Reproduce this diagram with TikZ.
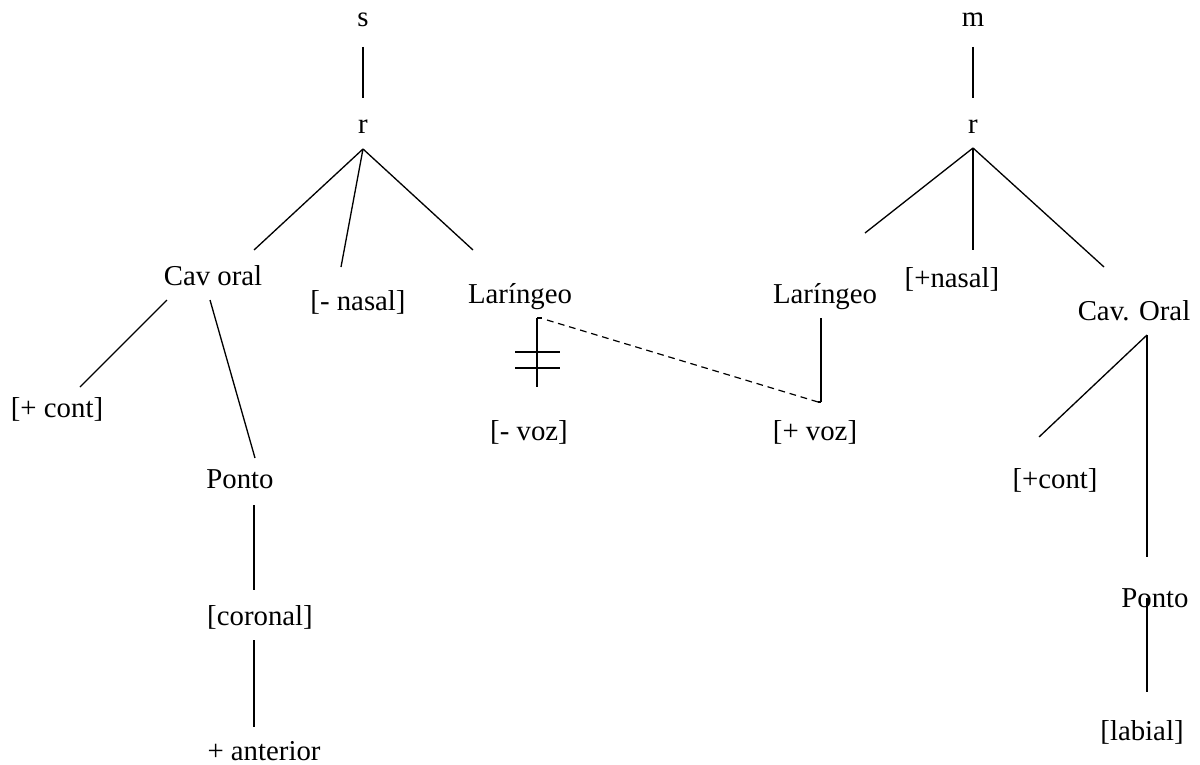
\documentclass[tikz,border=0pt]{standalone}
\usepackage{fontspec}
\setmainfont{Liberation Serif}
\usetikzlibrary{positioning}

\begin{document}
\begin{tikzpicture}
   [x=0.4167pt, y=-0.4167pt,
    feat/.style={anchor=base, inner sep=0pt, font=\fontsize{12}{14}\selectfont},
    branch/.style={-, line width=0.55pt},
    link/.style={-, line width=0.5pt, dash pattern=on 2.8pt off 2pt}]
     \useasboundingbox (0,0) rectangle (1200,764);
     % draw labels of s
     \node (sS)      at (363,27)  [feat] {s};
     \node (sR)      at (363,133) [feat] {r};
     \node (sCav)    at (213,285) [feat] {Cav oral};
     \node (sNas)    at (358,310) [feat] {[- nasal]};
     \node (sLar)    at (520,303) [feat] {Lar\'{\i}ngeo};
     \node (sCont)   at (57,417)  [feat] {[+ cont]};
     \node (sPonto)  at (240,488) [feat] {Ponto};
     \node (sCor)    at (260,625) [feat] {[coronal]};
     \node (sAnt)    at (264,760) [feat] {+ anterior};
     \node (sVoz)    at (529,440) [feat] {[- voz]};
     % draw labels of m
     \node (mM)      at (973,27)  [feat] {m};
     \node (mR)      at (973,133) [feat] {r};
     \node (mLar)    at (825,303) [feat] {Lar\'{\i}ngeo};
     \node (mNas)    at (952,287) [feat] {[+nasal]};
     \node (mCav)    at (1134,320) [feat] {Cav. Oral};
     \node (mVoz)    at (815,440) [feat] {[+ voz]};
     \node (mCont)   at (1055,488) [feat] {[+cont]};
     \node (mPonto)  at (1155,607) [feat] {Ponto};
     \node (mLab)    at (1142,740) [feat] {[labial]};
     % line ends
     \coordinate (sS-b)    at (363,47);
     \coordinate (sR-t)    at (363,98);
     \coordinate (sR-b)    at (363,149);
     \coordinate (sCav-t)  at (254,250);
     \coordinate (sNas-t)  at (341,267);
     \coordinate (sLar-t)  at (473,250);
     \coordinate (sCav-l)  at (167,300);
     \coordinate (sCav-r)  at (210,300);
     \coordinate (sCont-t) at (80,387);
     \coordinate (sPonto-t) at (255,458);
     \coordinate (sPonto-b) at (254,505);
     \coordinate (sCor-t)  at (254,590);
     \coordinate (sCor-b)  at (254,640);
     \coordinate (sAnt-t)  at (254,727);
     \coordinate (sLar-b)  at (537,318);
     \coordinate (sVoz-t)  at (537,387);
     \coordinate (sLink)   at (547,320);
     \coordinate (mM-b)    at (973,47);
     \coordinate (mR-t)    at (973,98);
     \coordinate (mR-b)    at (973,148);
     \coordinate (mLar-t)  at (865,233);
     \coordinate (mNas-t)  at (973,250);
     \coordinate (mCav-t)  at (1104,267);
     \coordinate (mLar-b)  at (821,318);
     \coordinate (mVoz-t)  at (821,402);
     \coordinate (mLink)   at (818,402);
     \coordinate (mCav-b)  at (1147,335);
     \coordinate (mCont-t) at (1039,437);
     \coordinate (mPonto-t) at (1147,557);
     \coordinate (mPonto-b) at (1147,598);
     \coordinate (mLab-t)  at (1147,692);
     % draw branches
     \foreach \a/\b in {sS-b/sR-t, sR-b/sCav-t, sR-b/sNas-t, sR-b/sLar-t,
                        sCav-l/sCont-t, sCav-r/sPonto-t, sPonto-b/sCor-t,
                        sCor-b/sAnt-t, sLar-b/sVoz-t,
                        mM-b/mR-t, mR-b/mLar-t, mR-b/mNas-t, mR-b/mCav-t,
                        mLar-b/mVoz-t, mCav-b/mCont-t, mCav-b/mPonto-t,
                        mPonto-b/mLab-t} {
       \draw [branch] (\a) -- (\b);
     };
     % delinked voicing
     \draw [branch] (sLar-b) -- ++(5,0);
     \draw [branch] (mVoz-t) -- (mLink);
     \foreach \y in {352, 368} {
       \draw [branch] (515,\y) -- (560,\y);
     };
     % spread of [+ voz]
     \draw [link] (sLink) -- (mLink);
 \end{tikzpicture}
\end{document}
